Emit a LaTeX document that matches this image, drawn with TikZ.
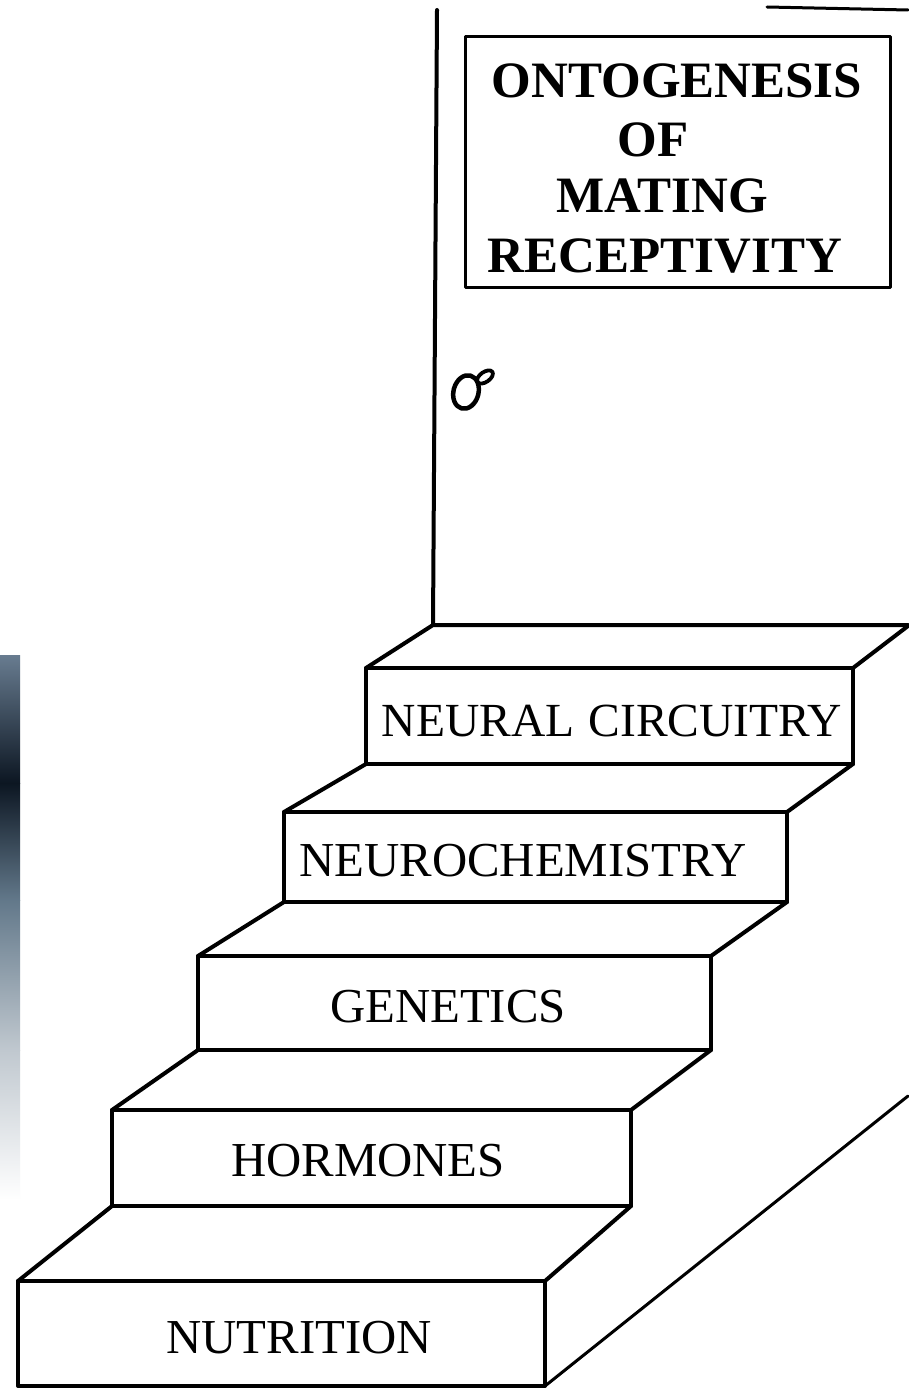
\documentclass[tikz,border=0pt]{standalone}
\usepackage{fontspec}
\setmainfont{Liberation Serif}
\begin{document}
\begin{tikzpicture}[x=1pt,y=-1pt,line join=round,line cap=round,
  edge/.style={line width=4pt},
  frame/.style={line width=3pt},
  titletext/.style={font=\bfseries\fontsize{51}{56}\selectfont,inner sep=0pt,anchor=base},
  steptext/.style={font=\fontsize{48.8}{52}\selectfont,inner sep=0pt,anchor=base}]
\useasboundingbox (0,0) rectangle (908,1388);
\fill[white] (0,0) rectangle (908,1388);

% dark band along the left margin
\shade[top color={rgb,255:red,104;green,124;blue,144},bottom color={rgb,255:red,12;green,22;blue,34}] (0,655) rectangle (20,783);
\shade[top color={rgb,255:red,12;green,22;blue,34},bottom color={rgb,255:red,98;green,120;blue,138}] (0,783) rectangle (20,900);
\shade[top color={rgb,255:red,98;green,120;blue,138},bottom color={rgb,255:red,192;green,200;blue,207}] (0,900) rectangle (20,1050);
\shade[top color={rgb,255:red,192;green,200;blue,207},bottom color=white] (0,1050) rectangle (20,1200);

% door frame
\coordinate (doortop) at (437,10);
\coordinate (doorbase) at (433,625);
\coordinate (lintelL) at (767,7);
\coordinate (lintelR) at (908,10);
\coordinate (backR) at (908,625);
\draw[edge] (doortop) -- (doorbase);
\draw[frame] (lintelL) -- (lintelR);

% sign on the door
\coordinate (signA) at (465,37);
\coordinate (signB) at (890,287);
\draw[frame] (signA) rectangle (signB);
\node[titletext] (t1) at (677,98) {ONTOGENESIS};
\node[titletext] (t2) at (653,157) {OF};
\node[titletext] (t3) at (662,213) {MATING};
\node[titletext] (t4) at (665,272) {RECEPTIVITY};

% door knob
\draw[line width=4.5pt,rotate around={-15:(466,392)}] (466,392) ellipse [x radius=12.5,y radius=17];
\draw[line width=3.8pt,rotate around={35:(485,377)}] (485,377) ellipse [x radius=9,y radius=5];

% step corners: front top-left, top-right, bottom-right, bottom-left
\coordinate (s5a) at (366,668); \coordinate (s5b) at (853,668);
\coordinate (s5c) at (853,764); \coordinate (s5d) at (366,764);
\coordinate (s4a) at (284,812); \coordinate (s4b) at (787,812);
\coordinate (s4c) at (787,902); \coordinate (s4d) at (284,902);
\coordinate (s3a) at (198,956); \coordinate (s3b) at (711,956);
\coordinate (s3c) at (711,1050); \coordinate (s3d) at (198,1050);
\coordinate (s2a) at (112,1110); \coordinate (s2b) at (631,1110);
\coordinate (s2c) at (631,1206); \coordinate (s2d) at (112,1206);
\coordinate (s1a) at (18,1281); \coordinate (s1b) at (545,1281);
\coordinate (s1c) at (545,1386); \coordinate (s1d) at (18,1386);
\coordinate (s5r) at (908,626);
\coordinate (sideR) at (908,1096);

% front faces
\draw[edge] (s5a) -- (s5b) -- (s5c) -- (s5d) -- cycle;
\draw[edge] (s4a) -- (s4b) -- (s4c) -- (s4d) -- cycle;
\draw[edge] (s3a) -- (s3b) -- (s3c) -- (s3d) -- cycle;
\draw[edge] (s2a) -- (s2b) -- (s2c) -- (s2d) -- cycle;
\draw[edge] (s1a) -- (s1b) -- (s1c) -- (s1d) -- cycle;

% tread edges
\draw[edge] (s5a) -- (doorbase) -- (backR);
\draw[edge] (s5b) -- (s5r);
\draw[edge] (s4a) -- (s5d);
\draw[edge] (s4b) -- (s5c);
\draw[edge] (s3a) -- (s4d);
\draw[edge] (s3b) -- (s4c);
\draw[edge] (s2a) -- (s3d);
\draw[edge] (s2b) -- (s3c);
\draw[edge] (s1a) -- (s2d);
\draw[edge] (s1b) -- (s2c);
\draw[line width=3pt] (s1c) -- (sideR);

% step labels
\node[steptext,font=\fontsize{47.5}{52}\selectfont] (neural) at (612,736) {NEURAL\hspace{0.3em}CIRCUITRY};
\node[steptext] (neurochem) at (523,876) {NEUROCHEMISTRY};
\node[steptext] (genetics) at (448,1022) {GENETICS};
\node[steptext] (hormones) at (368,1176) {HORMONES};
\node[steptext] (nutrition) at (299,1353) {NUTRITION};
\end{tikzpicture}
\end{document}
